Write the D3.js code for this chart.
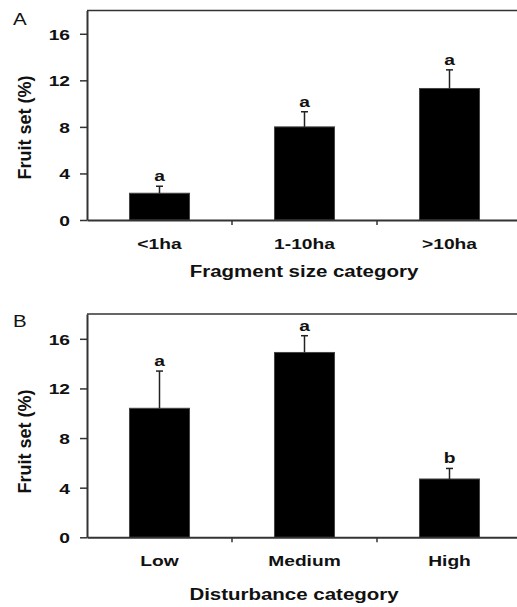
<!DOCTYPE html>
<html>
<head>
<meta charset="utf-8">
<script src="https://cdn.jsdelivr.net/npm/d3@7"></script>
<style>
  body { margin: 0; background: #fff; }
  text { font-family: "Liberation Sans", Arial, sans-serif; fill: #111; }
</style>
</head>
<body>
<div id="chart"></div>
<script>
// panel A data
const fragCats = ["<1ha", "1-10ha", ">10ha"];
const fragMeans = [2.3, 8.0, 11.3];
const fragSE = [0.6, 1.3, 1.6];
const fragLetters = ["a", "a", "a"];

// panel B data
const distCats = ["Low", "Medium", "High"];
const distMeans = [10.4, 14.9, 4.7];
const distSE = [3.0, 1.35, 0.85];
const distLetters = ["a", "a", "b"];

const yTicks = [0, 4, 8, 12, 16];
const yMax = 18;

const W = 517, H = 607;
const stretch = "scale(1.28,1)";

const svg = d3.select("#chart")
  .append("svg")
  .attr("width", W)
  .attr("height", H);

function panel(opts) {
  const {cats, means, se, letters, top, bottom, letter, title, titleX, titleY} = opts;
  const left = 87, right = 522;

  const g = svg.append("g");

  const x = d3.scaleBand()
    .domain(cats)
    .range([left, right])
    .paddingInner(0.586)
    .paddingOuter(0.293);

  const y = d3.scaleLinear()
    .domain([0, yMax])
    .range([bottom, top]);

  // top frame line
  g.append("line")
    .attr("x1", left).attr("x2", W)
    .attr("y1", y(yMax)).attr("y2", y(yMax))
    .attr("stroke", "#333")
    .attr("stroke-width", 1.5);

  // bars
  g.selectAll(".bar")
    .data(cats)
    .enter()
    .append("rect")
    .attr("class", "bar")
    .attr("x", d => x(d))
    .attr("width", x.bandwidth())
    .attr("y", (d, i) => y(means[i]))
    .attr("height", (d, i) => y(0) - y(means[i]))
    .attr("fill", "#000")
    .attr("stroke", "#444")
    .attr("stroke-width", 1);

  // error bars (upper only)
  const cx = d => x(d) + x.bandwidth() / 2;
  g.selectAll(".err")
    .data(cats)
    .enter()
    .append("line")
    .attr("x1", cx).attr("x2", cx)
    .attr("y1", (d, i) => y(means[i]))
    .attr("y2", (d, i) => y(means[i] + se[i]))
    .attr("stroke", "#222")
    .attr("stroke-width", 1.5);

  g.selectAll(".cap")
    .data(cats)
    .enter()
    .append("line")
    .attr("x1", d => cx(d) - 3.5).attr("x2", d => cx(d) + 3.5)
    .attr("y1", (d, i) => y(means[i] + se[i]))
    .attr("y2", (d, i) => y(means[i] + se[i]))
    .attr("stroke", "#222")
    .attr("stroke-width", 1.5);

  // significance letters
  g.selectAll(".sig")
    .data(cats)
    .enter()
    .append("text")
    .attr("transform", (d, i) => `translate(${cx(d)},${y(means[i] + se[i]) - 5}) ${stretch}`)
    .attr("text-anchor", "middle")
    .style("font-size", "15px")
    .style("font-weight", "bold")
    .text((d, i) => letters[i]);

  // y axis
  const yAxis = g.append("g")
    .attr("transform", `translate(${left},0)`)
    .call(d3.axisLeft(y).tickValues(yTicks).tickSize(7).tickSizeOuter(0));

  yAxis.select(".domain").attr("stroke", "#333").attr("stroke-width", 2);
  yAxis.selectAll(".tick line").attr("stroke", "#333").attr("stroke-width", 1.5);
  yAxis.selectAll(".tick text")
    .attr("x", 0)
    .attr("dy", "0.36em")
    .attr("transform", `translate(-17,0) ${stretch}`)
    .style("font-size", "15px")
    .style("font-weight", "bold")
    .attr("fill", "#111");

  // x axis
  const xAxis = g.append("g")
    .attr("transform", `translate(0,${bottom})`)
    .call(d3.axisBottom(x).tickSize(0).tickSizeOuter(0));

  xAxis.select(".domain").attr("stroke", "#333").attr("stroke-width", 2);
  xAxis.selectAll(".tick text")
    .attr("y", 0)
    .attr("dy", null)
    .attr("transform", `translate(0,28.5) ${stretch}`)
    .style("font-size", "15px")
    .style("font-weight", "bold")
    .attr("fill", "#111");

  // small ticks between categories
  const gap = (x.step() - x.bandwidth()) / 2;
  g.selectAll(".sep")
    .data(cats.slice(1))
    .enter()
    .append("line")
    .attr("x1", d => x(d) - gap).attr("x2", d => x(d) - gap)
    .attr("y1", bottom).attr("y2", bottom + 5)
    .attr("stroke", "#333")
    .attr("stroke-width", 1.5);

  // y axis title
  g.append("text")
    .attr("transform", `translate(31,${opts.yLabelY}) rotate(-90)`)
    .attr("text-anchor", "middle")
    .style("font-size", "18px")
    .style("font-weight", "bold")
    .text("Fruit set (%)");

  // x axis title
  g.append("text")
    .attr("transform", `translate(${titleX},${titleY}) ${stretch}`)
    .attr("text-anchor", "middle")
    .style("font-size", "16px")
    .style("font-weight", "bold")
    .text(title);

  // panel letter
  g.append("text")
    .attr("transform", `translate(13,${opts.letterY}) ${stretch}`)
    .style("font-size", "16px")
    .text(letter);
}

panel({
  cats: fragCats, means: fragMeans, se: fragSE, letters: fragLetters,
  top: 10.5, bottom: 220, letter: "A", letterY: 25,
  title: "Fragment size category", titleX: 304, titleY: 277,
  yLabelY: 127.5
});

panel({
  cats: distCats, means: distMeans, se: distSE, letters: distLetters,
  top: 314, bottom: 537.3, letter: "B", letterY: 327,
  title: "Disturbance category", titleX: 294, titleY: 599.5,
  yLabelY: 441.5
});
</script>
</body>
</html>
